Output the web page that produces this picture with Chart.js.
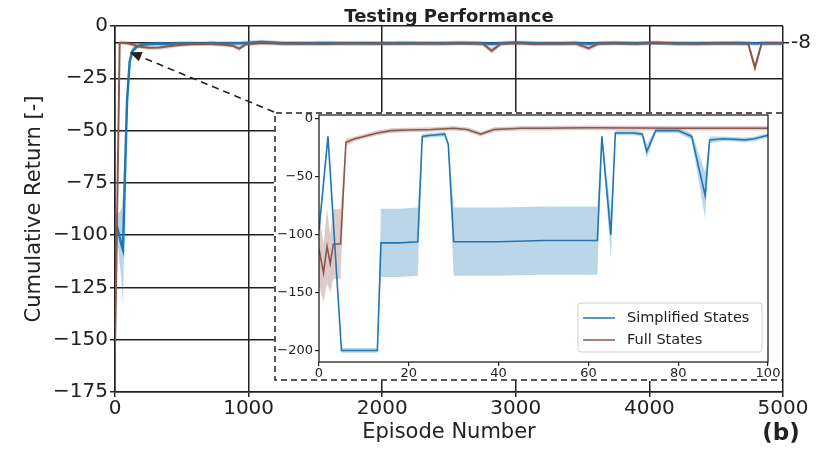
<!DOCTYPE html>
<html>
<head>
<meta charset="utf-8">
<script src="https://cdn.jsdelivr.net/npm/chart.js@4.4.0/dist/chart.umd.min.js"></script>
<style>
body { margin: 0; background: #fff; }
#wrap { position: relative; width: 816px; height: 452px; }
#main { position: absolute; left: 0; top: 0; }
#inset { position: absolute; left: 274px; top: 112px; }
</style>
</head>
<body>
<div id="wrap">
<canvas id="main" width="816" height="452"></canvas>
<canvas id="inset" width="508" height="269"></canvas>
</div>
<script>
// main plot: episodes 0..5000
const mainEpisodes = [0, 15, 35, 50, 60, 75, 90, 110, 130, 160,
    200, 260, 330, 400, 480, 560, 640, 720, 800, 880,
    930, 980, 1100, 1250, 1400, 1550, 1700, 1850, 2000, 2150,
    2300, 2450, 2600, 2750, 2820, 2890, 3000, 3150, 3300, 3450,
    3545, 3620, 3750, 3900, 4050, 4200, 4350, 4500, 4650, 4740,
    4790, 4840, 4920, 5000];
const simpMain = [-92, -96, -101, -105, -107, -70, -36, -17, -12, -10,
    -9, -8.6, -8.4, -8.6, -8.3, -8.2, -8.5, -8.1, -8.4, -8.2,
    -8.3, -8.1, -7.6, -8.2, -8.4, -8.1, -8.3, -8.2, -8.4, -8.1,
    -8.3, -8.2, -8.1, -8.3, -8.6, -8.2, -7.9, -8.2, -8.4, -8.1,
    -8.5, -8.2, -8.1, -8.3, -8, -8.4, -8.2, -8.3, -8.1, -8.2,
    -8.4, -8.2, -8.3, -8.2];
const simpMainSpread = [3, 6, 12, 18, 27, 12, 6, 3, 2, 1.2,
    1, 1, 1, 1, 1, 1, 1, 1, 1, 1,
    1, 1, 1, 1, 1, 1, 1, 1, 1, 1,
    1, 1, 1, 1, 1, 1, 1, 1, 1, 1,
    1, 1, 1, 1, 1, 1, 1, 1, 1, 1,
    1, 1, 1, 1];
const fullMain = [-155, -95, -8.2, -8, -8, -8.1, -8.3, -8.5, -8.8, -9.4,
    -10, -10.4, -10.3, -9.7, -9.1, -8.7, -8.5, -8.6, -8.8, -9.4,
    -10.8, -8.7, -8.1, -8.4, -8.2, -8.6, -8.3, -8.4, -8.2, -8.5,
    -8.3, -8.4, -8.2, -8.4, -11.8, -8.5, -8.2, -8.6, -8.3, -8.4,
    -10.6, -8.4, -8.2, -8.5, -8.1, -8.3, -8.6, -8.2, -8.4, -8.5,
    -20, -8.4, -8.2, -8.3];
const fullMainSpread = [3, 10, 1.5, 1, 1, 1, 1, 1, 1, 1,
    1, 1, 1, 1, 1, 1, 1, 1, 1, 1,
    1.2, 1, 1, 1, 1, 1, 1, 1, 1, 1,
    1, 1, 1, 1, 1.5, 1, 1, 1, 1, 1,
    1.2, 1, 1, 1, 1, 1, 1, 1, 1, 1,
    2.5, 1, 1, 1];
const mainXTicks = [0, 1000, 2000, 3000, 4000, 5000];
const mainYTicks = [0, -25, -50, -75, -100, -125, -150, -175];
const refLevel = [-8];
const arrowTarget = [110, -12.5];

// inset: first 100 episodes
const simpEp = [0, 2, 5, 13, 13.8, 18, 22, 23, 25, 28,
    28.8, 30, 40, 50, 62, 63, 65, 66, 70, 72,
    73, 75, 80, 83, 86, 87, 90, 95, 97, 100];
const simpVal = [-96, -15, -200, -200, -107, -107, -106, -15, -14, -13,
    -22, -106, -106, -105, -105, -15, -100, -12, -12, -13,
    -28, -10, -10, -15, -66, -18, -17, -18, -17, -14];
const simpSpread = [3, 3, 2, 2, 29.5, 29.5, 29.5, 2, 2, 2,
    3, 29.5, 29.5, 29.5, 29.5, 3, 20, 2, 2, 2,
    6, 2, 2, 3, 20, 3, 2, 2, 2, 2];
const fullEp = [0, 1, 1.8, 2.5, 3.2, 4.8, 6, 8, 10, 13,
    16, 20, 25, 30, 33, 36, 39, 45, 50, 60,
    70, 80, 90, 100];
const fullVal = [-112, -133, -110, -125, -108, -108, -20, -17, -15, -12,
    -10, -9.5, -9, -8, -9, -13, -9, -8, -8, -7.5,
    -7.8, -8, -8, -8];
const fullSpread = [32, 25, 32, 25, 30, 30, 3, 2, 2, 2,
    2, 2, 2, 2, 2, 2, 2, 2, 2, 2,
    2, 2, 2, 2];
const insetXTicks = [0, 20, 40, 60, 80, 100];
const insetYTicks = [0, -50, -100, -150, -200];

const BLUE = "#1f77b4";
const BROWN = "#8c564b";
const BLUE_BAND = "rgba(31,119,180,0.3)";
const BROWN_BAND = "rgba(140,86,75,0.3)";
const INK = "#222";
const FONT = "'DejaVu Sans', sans-serif";

function pts(xs, ys) {
    return xs.map((x, i) => ({ x: x, y: ys[i] }));
}
function edge(xs, ys, sp, sign) {
    return xs.map((x, i) => ({ x: x, y: ys[i] + sign * sp[i] }));
}
function minus(v) {
    return String(v).replace("-", "\u2212");
}
function bandSets(xs, ys, sp, color) {
    return [
        { data: edge(xs, ys, sp, -1), borderWidth: 0, pointRadius: 0, fill: false, order: 5 },
        { data: edge(xs, ys, sp, 1), borderWidth: 0, pointRadius: 0, fill: "-1", backgroundColor: color, order: 5 }
    ];
}

// ---------- main chart ----------
const mainDecor = {
    id: "mainDecor",
    afterDraw(chart) {
        const ctx = chart.ctx;
        const a = chart.chartArea;
        ctx.save();
        ctx.fillStyle = INK;
        ctx.font = "bold 18px " + FONT;
        ctx.textAlign = "center";
        ctx.textBaseline = "alphabetic";
        ctx.fillText("Testing Performance", (a.left + a.right) / 2, 21.5);

        ctx.font = "bold 23px " + FONT;
        ctx.textBaseline = "middle";
        ctx.fillText("(b)", 781, 434);

        // dashed pointer from the inset corner to the early episodes
        const box = document.getElementById("inset");
        const tx = chart.scales.x.getPixelForValue(arrowTarget[0]);
        const ty = chart.scales.y.getPixelForValue(arrowTarget[1]);
        const sx = box.offsetLeft, sy = box.offsetTop;
        const ang = Math.atan2(ty - sy, tx - sx);
        const head = 12;
        ctx.strokeStyle = INK;
        ctx.lineWidth = 1.6;
        ctx.setLineDash([7, 5]);
        ctx.beginPath();
        ctx.moveTo(sx, sy);
        ctx.lineTo(tx - head * Math.cos(ang), ty - head * Math.sin(ang));
        ctx.stroke();
        ctx.setLineDash([]);
        ctx.beginPath();
        ctx.moveTo(tx, ty);
        ctx.lineTo(tx - head * Math.cos(ang) + 5 * Math.sin(ang), ty - head * Math.sin(ang) - 5 * Math.cos(ang));
        ctx.lineTo(tx - head * Math.cos(ang) - 5 * Math.sin(ang), ty - head * Math.sin(ang) + 5 * Math.cos(ang));
        ctx.closePath();
        ctx.fill();
        ctx.restore();
    }
};

new Chart(document.getElementById("main"), {
    type: "line",
    data: {
        datasets: [
            ...bandSets(mainEpisodes, simpMain, simpMainSpread, BLUE_BAND),
            ...bandSets(mainEpisodes, fullMain, fullMainSpread, BROWN_BAND),
            { label: "Simplified States", data: pts(mainEpisodes, simpMain), borderColor: BLUE, borderWidth: 2.5, pointRadius: 0, fill: false, order: 2 },
            { label: "Full States", data: pts(mainEpisodes, fullMain), borderColor: BROWN, borderWidth: 2, pointRadius: 0, fill: false, order: 1 }
        ]
    },
    options: {
        responsive: false,
        animation: false,
        layout: { padding: { top: 26, left: 0, right: 0, bottom: 0 } },
        plugins: { legend: { display: false }, tooltip: { enabled: false } },
        scales: {
            x: {
                type: "linear", min: 0, max: 5000,
                afterBuildTicks: s => { s.ticks = mainXTicks.map(v => ({ value: v })); },
                afterFit: s => { s.height = 60; s.paddingLeft = 0; s.paddingRight = 0; },
                ticks: { font: { family: FONT, size: 20 }, color: INK, padding: 0, maxRotation: 0, callback: v => String(v) },
                grid: { color: INK, lineWidth: 1.5, tickLength: 5, tickColor: INK },
                border: { display: true, color: INK, width: 1.5 },
                title: { display: true, text: "Episode Number", font: { family: FONT, size: 21 }, color: INK, padding: { top: 0, bottom: 7 } }
            },
            y: {
                type: "linear", min: -175, max: 0,
                afterBuildTicks: s => { s.ticks = mainYTicks.map(v => ({ value: v })); },
                afterFit: s => { s.width = 115; },
                ticks: { font: { family: FONT, size: 20 }, color: INK, padding: 2, callback: v => minus(v) },
                grid: { color: INK, lineWidth: 1.5, tickLength: 5, tickColor: INK },
                border: { display: true, color: INK, width: 1.5 },
                title: { display: true, text: "Cumulative Return [-]", font: { family: FONT, size: 21 }, color: INK, padding: { top: 22, bottom: 0 } }
            },
            y8: {
                type: "linear", position: "right", min: -175, max: 0, z: 1,
                afterBuildTicks: s => { s.ticks = refLevel.map(v => ({ value: v })); },
                afterFit: s => { s.width = 33; },
                ticks: { font: { family: FONT, size: 20 }, color: INK, padding: 2, callback: v => String(v) },
                grid: { color: INK, lineWidth: 1.5, tickLength: 6, tickColor: INK },
                border: { display: false }
            }
        }
    },
    plugins: [mainDecor]
});

// ---------- inset chart ----------
const insetDecor = {
    id: "insetDecor",
    beforeDraw(chart) {
        const ctx = chart.ctx;
        ctx.save();
        ctx.fillStyle = "#fff";
        ctx.fillRect(0, 0, chart.width, chart.height);
        ctx.restore();
    },
    afterDraw(chart) {
        const ctx = chart.ctx;
        const a = chart.chartArea;
        ctx.save();
        // frame of the inset axes
        ctx.strokeStyle = INK;
        ctx.lineWidth = 1.3;
        ctx.strokeRect(a.left, a.top, a.right - a.left, a.bottom - a.top);
        // dashed zoom box
        ctx.lineWidth = 1.5;
        ctx.setLineDash([6, 4]);
        ctx.beginPath();
        ctx.moveTo(chart.width, 1);
        ctx.lineTo(1, 1);
        ctx.lineTo(1, chart.height - 1);
        ctx.lineTo(chart.width, chart.height - 1);
        ctx.stroke();
        ctx.setLineDash([]);

        // legend
        const w = 184, h = 49;
        const lx = a.right - 6 - w, ly = a.bottom - 10 - h;
        ctx.fillStyle = "rgba(255,255,255,0.85)";
        ctx.strokeStyle = "#d0d0d0";
        ctx.lineWidth = 1;
        ctx.beginPath();
        ctx.roundRect(lx, ly, w, h, 3);
        ctx.fill();
        ctx.stroke();
        const items = chart.data.datasets.filter(d => d.label);
        items.sort((p, q) => q.order - p.order);
        ctx.font = "14.5px " + FONT;
        ctx.textBaseline = "middle";
        ctx.textAlign = "left";
        items.forEach((d, i) => {
            const yy = ly + 15 + i * 22;
            ctx.strokeStyle = d.borderColor;
            ctx.lineWidth = 1.5;
            ctx.beginPath();
            ctx.moveTo(lx + 5, yy);
            ctx.lineTo(lx + 37, yy);
            ctx.stroke();
            ctx.fillStyle = INK;
            ctx.fillText(d.label, lx + 49, yy);
        });
        ctx.restore();
    }
};

new Chart(document.getElementById("inset"), {
    type: "line",
    data: {
        datasets: [
            ...bandSets(simpEp, simpVal, simpSpread, BLUE_BAND),
            ...bandSets(fullEp, fullVal, fullSpread, BROWN_BAND),
            { label: "Simplified States", data: pts(simpEp, simpVal), borderColor: BLUE, borderWidth: 1.6, pointRadius: 0, fill: false, order: 2 },
            { label: "Full States", data: pts(fullEp, fullVal), borderColor: BROWN, borderWidth: 1.6, pointRadius: 0, fill: false, order: 1 }
        ]
    },
    options: {
        responsive: false,
        animation: false,
        layout: { padding: { top: 3, left: 0, right: 14, bottom: 0 } },
        plugins: { legend: { display: false }, tooltip: { enabled: false } },
        scales: {
            x: {
                type: "linear", min: 0, max: 100,
                afterBuildTicks: s => { s.ticks = insetXTicks.map(v => ({ value: v })); },
                afterFit: s => { s.height = 19; s.paddingLeft = 0; s.paddingRight = 0; },
                ticks: { font: { family: FONT, size: 13 }, color: INK, padding: 0, maxRotation: 0 },
                grid: { drawOnChartArea: false, tickLength: 4, tickColor: INK, lineWidth: 1.2 },
                border: { display: false }
            },
            y: {
                type: "linear", min: -210, max: 3.5,
                afterBuildTicks: s => { s.ticks = insetYTicks.map(v => ({ value: v })); },
                afterFit: s => { s.width = 45; s.paddingTop = 0; s.paddingBottom = 0; },
                ticks: { font: { family: FONT, size: 13 }, color: INK, padding: 2, callback: v => minus(v) },
                grid: { drawOnChartArea: false, tickLength: 4, tickColor: INK, lineWidth: 1.2 },
                border: { display: false }
            }
        }
    },
    plugins: [insetDecor]
});
</script>
</body>
</html>
